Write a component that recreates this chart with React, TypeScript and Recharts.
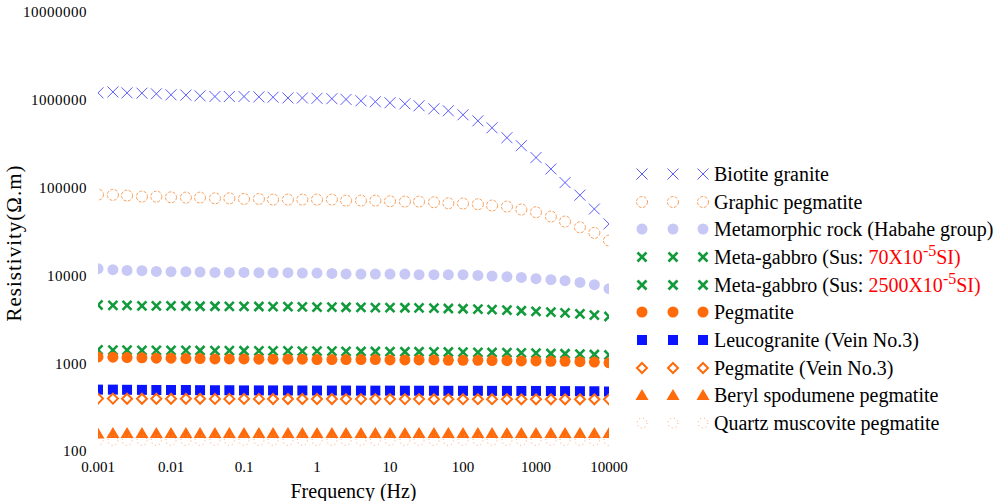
import React from "react";
import { ScatterChart, Scatter, XAxis, YAxis, Label } from "recharts";

const frequencies = [
  0.001, 0.0016, 0.0025, 0.004, 0.0063, 0.01, 0.016, 0.025, 0.04, 0.063, 0.1, 0.16, 0.25, 0.4, 0.63, 1, 1.6, 2.5, 4,
  6.3, 10, 16, 25, 40, 63, 100, 160, 250, 400, 630, 1000, 1600, 2500, 4000, 6300, 10000,
];

const biotiteGranite = [
  1200000, 1230000, 1200000, 1190000, 1170000, 1140000, 1130000, 1110000, 1090000, 1090000, 1090000, 1080000, 1070000,
  1050000, 1050000, 1040000, 1030000, 1010000, 975000, 950000, 925000, 900000, 855000, 790000, 750000, 675000, 576000,
  480000, 370000, 300000, 220000, 163000, 114000, 82000, 57000, 38600,
];
const graphicPegmatite = [
  83300, 82600, 81100, 79000, 79000, 77500, 76900, 76900, 75500, 75500, 74300, 74300, 73000, 73000, 73000, 73000, 73000,
  71100, 71100, 71100, 69900, 69300, 69300, 68100, 66300, 65800, 64600, 62400, 60800, 56200, 52400, 46800, 41000, 35300,
  30500, 24900,
];
const metamorphicRock = [
  11920, 11610, 11400, 11310, 11100, 11020, 11020, 10900, 10820, 10820, 10820, 10730, 10730, 10730, 10620, 10620, 10540,
  10400, 10350, 10350, 10350, 10350, 10180, 10180, 10180, 10180, 10000, 9820, 9665, 9490, 9170, 8930, 8700, 8320, 7830,
  7050,
];
const metaGabbro70 = [
  4600, 4550, 4550, 4500, 4500, 4500, 4480, 4450, 4450, 4440, 4440, 4420, 4400, 4400, 4380, 4360, 4350, 4340, 4320, 4300,
  4300, 4280, 4260, 4240, 4200, 4170, 4130, 4080, 4020, 3960, 3900, 3820, 3740, 3640, 3530, 3400,
];
const metaGabbro2500 = [
  1420, 1410, 1410, 1400, 1400, 1400, 1400, 1395, 1390, 1390, 1385, 1380, 1380, 1380, 1375, 1370, 1370, 1365, 1360, 1360,
  1355, 1350, 1350, 1345, 1340, 1335, 1330, 1325, 1320, 1310, 1300, 1290, 1280, 1270, 1255, 1240,
];
const pegmatite = [
  1180, 1170, 1160, 1150, 1140, 1140, 1130, 1130, 1120, 1120, 1120, 1110, 1110, 1110, 1110, 1100, 1100, 1100, 1100, 1100,
  1090, 1090, 1090, 1090, 1080, 1080, 1080, 1070, 1070, 1060, 1060, 1050, 1050, 1040, 1030, 1010,
];
const leucogranite = [
  500, 500, 498, 497, 495, 495, 495, 493, 492, 492, 490, 490, 490, 489, 489, 488, 488, 488, 487, 487, 487, 486, 486, 486,
  485, 485, 485, 484, 484, 483, 483, 482, 481, 480, 479, 476,
];
const pegmatiteVein = [
  395, 395, 394, 394, 394, 393, 393, 393, 392, 392, 392, 392, 391, 391, 391, 391, 391, 390, 390, 390, 390, 390, 390, 389,
  389, 389, 389, 389, 389, 388, 388, 388, 388, 388, 388, 388,
];
const berylPegmatite = [
  158, 160, 160, 160, 160, 160, 160, 160, 160, 160, 160, 160, 160, 160, 160, 160, 160, 160, 160, 160, 160, 160, 160, 160,
  160, 160, 160, 160, 160, 160, 160, 160, 160, 160, 160, 160,
];
const quartzMuscovite = [
  132, 132, 132, 132, 132, 132, 132, 132, 132, 132, 132, 132, 132, 132, 132, 132, 132, 132, 132, 132, 132, 132, 132, 132,
  132, 132, 132, 132, 132, 132, 132, 132, 132, 132, 132, 132,
];

const xTicks = [0.001, 0.01, 0.1, 1, 10, 100, 1000, 10000];
const yTicks = [100, 1000, 10000, 100000, 1000000, 10000000];

const serif = "'Liberation Serif', 'Times New Roman', serif";

type Kind = "thinX" | "dashCircle" | "disc" | "boldX" | "square" | "diamond" | "triangle" | "faintCircle";

function Marker({ kind, color, cx, cy }: { kind: Kind; color: string; cx: number; cy: number }) {
  switch (kind) {
    case "thinX":
      return (
        <g stroke={color} strokeWidth={1}>
          <line x1={cx - 5.5} y1={cy - 5.5} x2={cx + 5.5} y2={cy + 5.5} />
          <line x1={cx - 5.5} y1={cy + 5.5} x2={cx + 5.5} y2={cy - 5.5} />
        </g>
      );
    case "dashCircle":
      return <circle cx={cx} cy={cy} r={5.5} fill="none" stroke={color} strokeWidth={1} strokeDasharray="3 1.5" />;
    case "disc":
      return <circle cx={cx} cy={cy} r={5.5} fill={color} />;
    case "boldX":
      return (
        <g stroke={color} strokeWidth={2.6}>
          <line x1={cx - 4.5} y1={cy - 4.5} x2={cx + 4.5} y2={cy + 4.5} />
          <line x1={cx - 4.5} y1={cy + 4.5} x2={cx + 4.5} y2={cy - 4.5} />
        </g>
      );
    case "square":
      return <rect x={cx - 5} y={cy - 5} width={10} height={10} fill={color} />;
    case "diamond":
      return (
        <polygon
          points={`${cx},${cy - 5} ${cx + 5},${cy} ${cx},${cy + 5} ${cx - 5},${cy}`}
          fill="#fff"
          stroke={color}
          strokeWidth={2}
        />
      );
    case "triangle":
      return <polygon points={`${cx},${cy - 6} ${cx + 6.5},${cy + 5} ${cx - 6.5},${cy + 5}`} fill={color} />;
    case "faintCircle":
      return <circle cx={cx} cy={cy} r={5} fill="none" stroke={color} strokeWidth={1} strokeDasharray="1 3" />;
  }
  return null;
}

const series: { name: React.ReactNode; values: number[]; kind: Kind; color: string }[] = [
  { name: "Biotite granite", values: biotiteGranite, kind: "thinX", color: "#5b5bff" },
  { name: "Graphic pegmatite", values: graphicPegmatite, kind: "dashCircle", color: "#f8a05c" },
  { name: "Metamorphic rock (Habahe group)", values: metamorphicRock, kind: "disc", color: "#c8c8f6" },
  {
    name: (
      <>
        Meta-gabbro (Sus:{" "}
        <span style={{ color: "#ff0000" }}>
          70X10<sup style={{ fontSize: 16, lineHeight: 0 }}>-5</sup>SI)
        </span>
      </>
    ),
    values: metaGabbro70,
    kind: "boldX",
    color: "#129a3c",
  },
  {
    name: (
      <>
        Meta-gabbro (Sus:{" "}
        <span style={{ color: "#ff0000" }}>
          2500X10<sup style={{ fontSize: 16, lineHeight: 0 }}>-5</sup>SI)
        </span>
      </>
    ),
    values: metaGabbro2500,
    kind: "boldX",
    color: "#129a3c",
  },
  { name: "Pegmatite", values: pegmatite, kind: "disc", color: "#ff6a0a" },
  { name: "Leucogranite (Vein No.3)", values: leucogranite, kind: "square", color: "#0a14ff" },
  { name: "Pegmatite (Vein No.3)", values: pegmatiteVein, kind: "diamond", color: "#ff6a0a" },
  { name: "Beryl spodumene pegmatite", values: berylPegmatite, kind: "triangle", color: "#ff6a0a" },
  { name: "Quartz muscovite pegmatite", values: quartzMuscovite, kind: "faintCircle", color: "#ffa070" },
];

function LegendBox() {
  return (
    <div
      style={{
        position: "absolute",
        left: 630,
        top: 160,
        fontFamily: serif,
        fontSize: 20,
        color: "#000",
      }}
    >
      {series.map((s, i) => (
        <div key={i} style={{ display: "flex", alignItems: "center", height: 27.7, whiteSpace: "nowrap" }}>
          <svg width={84} height={20} style={{ flex: "none" }}>
            <Marker kind={s.kind} color={s.color} cx={12} cy={10} />
            <Marker kind={s.kind} color={s.color} cx={43} cy={10} />
            <Marker kind={s.kind} color={s.color} cx={73} cy={10} />
          </svg>
          <span style={{ lineHeight: "20px" }}>{s.name}</span>
        </div>
      ))}
    </div>
  );
}

export default function App() {
  return (
    <div style={{ position: "absolute", left: 0, top: 0, width: 998, height: 501, background: "#fff" }}>
      <ScatterChart width={998} height={501} margin={{ top: 12, right: 389, bottom: 0, left: 0 }}>
        <XAxis
          type="number"
          dataKey="f"
          scale="log"
          domain={[0.001, 10000]}
          ticks={xTicks}
          allowDataOverflow
          axisLine={false}
          tickLine={false}
          tickMargin={4}
          height={50}
          tickFormatter={(v: number) => String(v)}
          tick={{ fontSize: 15, fill: "#000", fontFamily: serif }}
        >
          <Label
            value="Frequency (Hz)"
            position="insideBottom"
            offset={3}
            style={{ fontSize: 20, fill: "#000", fontFamily: serif }}
          />
        </XAxis>
        <YAxis
          type="number"
          dataKey="v"
          scale="log"
          domain={[100, 10000000]}
          ticks={yTicks}
          allowDataOverflow
          axisLine={false}
          tickLine={false}
          tickMargin={5}
          width={98}
          tickFormatter={(v: number) => String(v)}
          tick={{ fontSize: 15, fill: "#000", fontFamily: serif, letterSpacing: 0.5 }}
        >
          <Label
            content={() => {
              const cy = 243;
              return (
                <text
                  x={14}
                  y={cy}
                  transform={`rotate(-90 14 ${cy})`}
                  textAnchor="middle"
                  dominantBaseline="central"
                  style={{ fontSize: 21, fill: "#000", fontFamily: serif, letterSpacing: 1 }}
                >
                  Resistivity(Ω.m)
                </text>
              );
            }}
          />
        </YAxis>
        {series.map((s, i) => (
          <Scatter
            key={i}
            data={frequencies.map((f, j) => ({ f, v: s.values[j] }))}
            isAnimationActive={false}
            shape={(p: any) => <Marker kind={s.kind} color={s.color} cx={p.cx} cy={p.cy} />}
          />
        ))}
      </ScatterChart>
      <LegendBox />
    </div>
  );
}
